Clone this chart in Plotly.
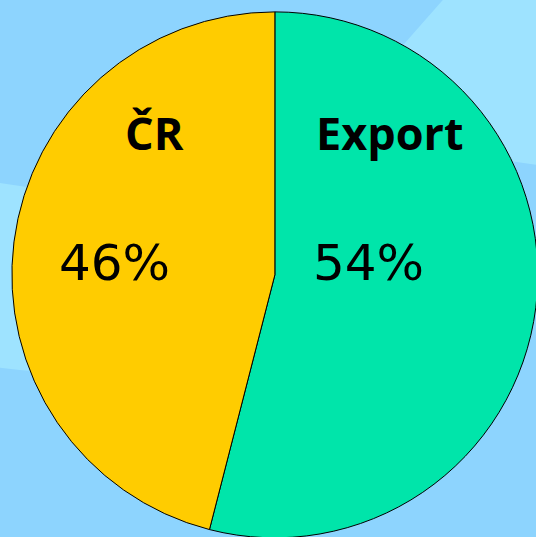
import plotly.graph_objects as go

labels = ["Export", "ČR"]
values = [54, 46]
colors = ["#00E5AA", "#FFCC00"]
label_text = ["Export", "ČR"]
pct_text = [f"{v}%" for v in values]

W, H = 540, 540

fig = go.Figure(go.Pie(
    labels=labels, values=values, sort=False, direction="clockwise", rotation=0,
    marker=dict(colors=colors, line=dict(color="black", width=1)),
    textinfo="none", hoverinfo="label+percent", showlegend=False,
    domain=dict(x=[0.022, 0.996], y=[0.004, 0.978]),
))

bg = "#8DD4FE"
light = "#9EE3FF"
shapes = [
    dict(type="path", xref="paper", yref="paper", layer="below",
         path="M 0 0.661 Q 0.3 0.62 0.6 0.5 L 0.6 0.38 Q 0.3 0.28 0 0.319 Z",
         fillcolor=light, line=dict(width=0)),
    dict(type="path", xref="paper", yref="paper", layer="below",
         path="M 0.82 1 L 0.6 0.75 L 1 0.694 L 1 1 Z",
         fillcolor=light, line=dict(width=0)),
]

anns = []
pos_label = [(390, 133), (154, 133)]
pos_pct = [(368, 263), (114, 263)]
for i in range(len(labels)):
    x, y = pos_label[i]
    anns.append(dict(x=x / W, y=1 - y / H, xref="paper", yref="paper", showarrow=False,
                     xanchor="center", yanchor="middle",
                     text=f"<b>{label_text[i]}</b>", font=dict(family="Open Sans", size=45, color="black")))
    x, y = pos_pct[i]
    anns.append(dict(x=x / W, y=1 - y / H, xref="paper", yref="paper", showarrow=False,
                     xanchor="center", yanchor="middle",
                     text=pct_text[i], font=dict(family="DejaVu Sans", size=50, color="black")))

fig.update_layout(width=W, height=H, margin=dict(l=0, r=0, t=0, b=0),
                  paper_bgcolor=bg, plot_bgcolor=bg, shapes=shapes, annotations=anns)
fig.write_html("out.html", config=dict(displayModeBar=False),
               post_script="document.body.style.margin='0';document.body.style.overflow='hidden';")
